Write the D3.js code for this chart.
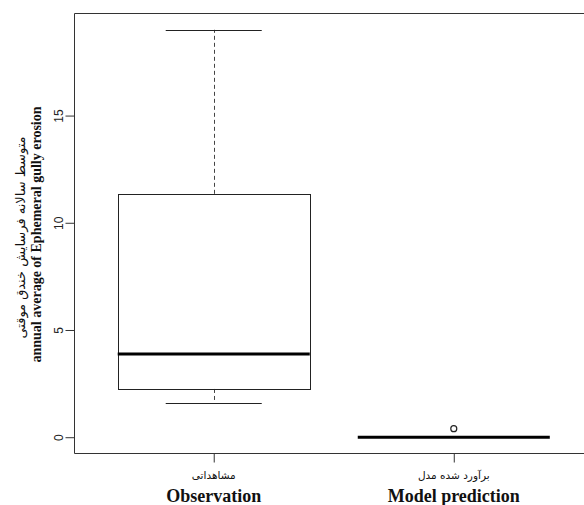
<!DOCTYPE html>
<html><head><meta charset="utf-8">
<script src="https://cdn.jsdelivr.net/npm/d3@7"></script>
<style>body{margin:0;background:#fff}svg{display:block}</style>
</head><body>
<script>
const categories = ["Observation", "Model prediction"];
const categoriesFa = ["مشاهداتی", "برآورد شده مدل"];
const positions = [1, 2];
const lowerWhisker = [1.6, 0];
const q1 = [2.25, 0];
const median = [3.88, 0];
const q3 = [11.35, 0];
const upperWhisker = [19.0, 0];
const outliers = [[], [0.4]];
const yTicks = [0, 5, 10, 15];
const yTitleEn = "annual average of Ephemeral gully erosion";
const yTitleFa = "متوسط سالانه فرسایش خندق موقتی";

(function () {
const W = 584, H = 505;
const mLeft = 74.5, mTop = 13.5, mBottom = 453.5, mRight = 593;
const svg = d3.select("body").append("svg").attr("width", W).attr("height", H);

const y = d3.scaleLinear().domain([-0.76, 19.76]).range([mBottom, mTop]);
const x = d3.scaleLinear().domain([0.42, 2.58]).range([mLeft, mRight]);
const boxW = 0.8, capW = 0.4;
const ink = "#222";

// frame
svg.append("path")
  .attr("d", `M${W + 2},${mTop}H${mLeft}V${mBottom}H${W + 2}`)
  .attr("fill", "none").attr("stroke", "#333").attr("stroke-width", 1);

// y axis
const ya = svg.append("g").attr("transform", `translate(${mLeft},0)`)
  .call(d3.axisLeft(y).tickValues(yTicks).tickSize(9).tickFormat(d3.format("d")));
ya.select(".domain").remove();
ya.selectAll(".tick line").attr("stroke", "#333");
ya.selectAll(".tick text")
  .attr("transform", "rotate(-90)")
  .attr("x", 0).attr("y", -12).attr("dy", 0)
  .attr("text-anchor", "middle")
  .attr("font-family", "'Liberation Sans', Arial, sans-serif")
  .attr("font-size", 12).attr("fill", "#222");

// x axis
const xa = svg.append("g").attr("transform", `translate(0,${mBottom})`)
  .call(d3.axisBottom(x).tickValues(positions).tickSize(9).tickFormat(""));
xa.select(".domain").remove();
xa.selectAll(".tick line").attr("stroke", "#333");

// category labels
const catG = svg.append("g");
positions.forEach((p, i) => {
  catG.append("text").attr("x", x(p)).attr("y", 479)
    .attr("text-anchor", "middle").attr("direction", "rtl")
    .attr("font-family", "'DejaVu Sans', sans-serif").attr("font-size", 10.5)
    .attr("fill", "#111").text(categoriesFa[i]);
  catG.append("text").attr("x", x(p)).attr("y", 502)
    .attr("text-anchor", "middle")
    .attr("font-family", "'Liberation Serif', 'Times New Roman', serif")
    .attr("font-weight", "bold").attr("font-size", 18)
    .attr("fill", "#111").text(categories[i]);
});

// y title
const cy = (mTop + mBottom) / 2 + 1;
svg.append("text").attr("transform", `translate(41,${cy}) rotate(-90)`)
  .attr("text-anchor", "middle")
  .attr("font-family", "'Liberation Serif', 'Times New Roman', serif")
  .attr("font-weight", "bold").attr("font-size", 14).attr("fill", "#111")
  .text(yTitleEn);
svg.append("text").attr("transform", `translate(25,${cy + 3}) rotate(-90)`)
  .attr("text-anchor", "middle").attr("direction", "rtl")
  .attr("font-family", "'DejaVu Sans', sans-serif")
  .attr("font-size", 13).attr("fill", "#111")
  .text(yTitleFa);

// boxes
const g = svg.append("g");
positions.forEach((p, i) => {
  const cx = Math.round(x(p)) + 0.5;
  g.append("line").attr("x1", cx).attr("x2", cx)
    .attr("y1", y(q3[i])).attr("y2", y(upperWhisker[i]))
    .attr("stroke", "#444").attr("stroke-dasharray", "4,3");
  g.append("line").attr("x1", cx).attr("x2", cx)
    .attr("y1", y(q1[i])).attr("y2", y(lowerWhisker[i]))
    .attr("stroke", "#444").attr("stroke-dasharray", "4,3");
  [upperWhisker[i], lowerWhisker[i]].forEach(v => {
    g.append("line").attr("x1", x(p - capW / 2)).attr("x2", x(p + capW / 2))
      .attr("y1", Math.round(y(v)) + 0.5).attr("y2", Math.round(y(v)) + 0.5)
      .attr("stroke", ink);
  });
  g.append("rect")
    .attr("x", Math.round(x(p - boxW / 2)) + 0.5)
    .attr("y", Math.round(y(q3[i])) + 0.5)
    .attr("width", Math.round(x(p + boxW / 2)) - Math.round(x(p - boxW / 2)))
    .attr("height", Math.round(y(q1[i])) - Math.round(y(q3[i])))
    .attr("fill", "none").attr("stroke", ink);
  g.append("line").attr("x1", x(p - boxW / 2)).attr("x2", x(p + boxW / 2))
    .attr("y1", y(median[i])).attr("y2", y(median[i]))
    .attr("stroke", "#000").attr("stroke-width", 3);
  outliers[i].forEach(v => {
    g.append("circle").attr("cx", x(p)).attr("cy", y(v)).attr("r", 3)
      .attr("fill", "none").attr("stroke", ink).attr("stroke-width", 1.2);
  });
});
})();
</script>
</body></html>
